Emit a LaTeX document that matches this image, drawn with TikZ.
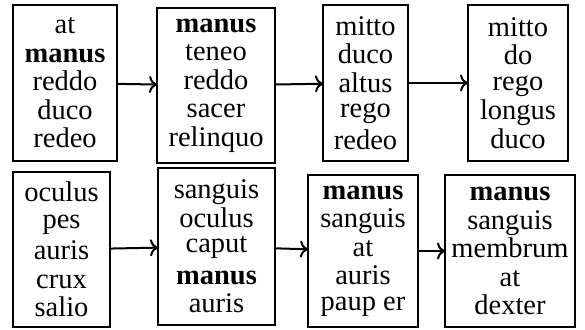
\documentclass[tikz,border=0pt]{standalone}
\usepackage{fontspec}
\setmainfont{Liberation Serif}
\usetikzlibrary{arrows.meta}
\begin{document}
\begin{tikzpicture}[x=1pt,y=-1pt,inner sep=0pt,outer sep=0pt,line width=2pt,>={Computer Modern Rightarrow[length=8pt,width=17pt,line width=2pt]},
wordblock/.style={draw,rectangle,align=center,line width=2.5pt,font=\fontsize{28.5}{28.5}\selectfont}]
\useasboundingbox (0,0) rectangle (585,329);
\draw (65,83) node[wordblock,minimum width=104pt,minimum height=156pt] (A1) {at\\\textbf{manus}\\reddo\\duco\\redeo};
\draw (216,85.5) node[wordblock,minimum width=118pt,minimum height=155pt] (A2) {\textbf{manus}\\teneo\\reddo\\sacer\\relinquo};
\draw (365.5,83) node[wordblock,minimum width=85pt,minimum height=156pt] (A3) {mitto\\duco\\altus\\[-3pt]rego\\[3pt]redeo};
\draw (518,83) node[wordblock,minimum width=100pt,minimum height=156pt] (A4) {mitto\\do\\[-3pt]rego\\[1pt]longus\\duco};
\draw (61.5,249.5) node[wordblock,minimum width=97pt,minimum height=155pt] (B1) {oculus\\[-2pt]pes\\[3pt]auris\\crux\\salio};
\draw (216.5,246.5) node[wordblock,minimum width=117pt,minimum height=157pt] (B2) {sanguis\\oculus\\[-3pt]caput\\[3pt]\textbf{manus}\\auris};
\draw (363,251) node[wordblock,minimum width=110pt,minimum height=152pt] (B3) {\textbf{manus}\\sanguis\\at\\auris\\[-3pt]paup er};
\draw (510,251) node[wordblock,minimum width=130pt,minimum height=152pt] (B4) {\textbf{manus}\\sanguis\\membrum\\at\\dexter};
\draw[->] (A1) -- (A2);
\draw[->] (A2) -- (A3);
\draw[->] (A3) -- (A4);
\draw[->] (B1) -- (B2);
\draw[->] (B2) -- (B3);
\draw[->] (B3) -- (B4);
\end{tikzpicture}
\end{document}
